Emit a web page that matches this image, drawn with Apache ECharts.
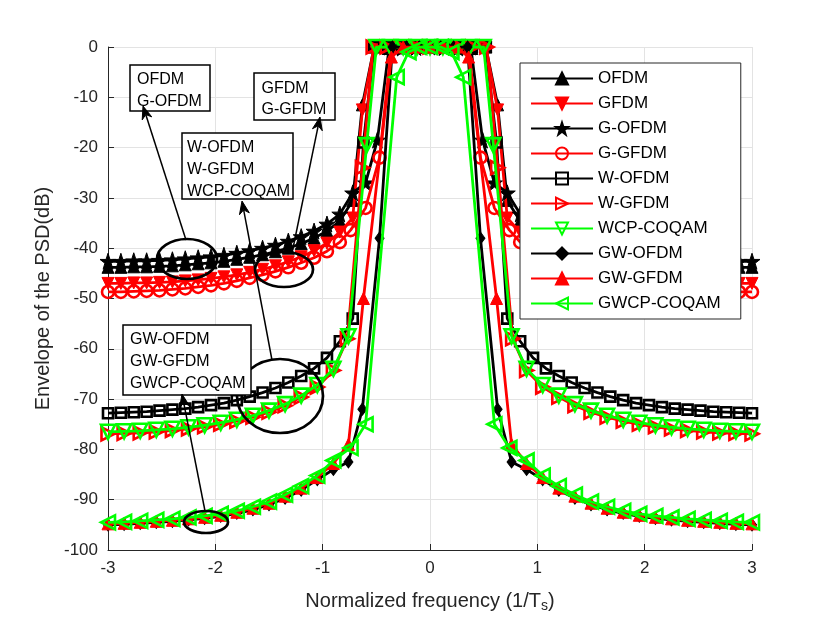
<!DOCTYPE html>
<html>
<head>
<meta charset="utf-8">
<script src="https://cdn.jsdelivr.net/npm/echarts@6/dist/echarts.min.js"></script>
<style>html,body{margin:0;padding:0;background:#fff}#c{width:830px;height:623px}</style>
</head>
<body>
<div id="c"></div>
<script>
// ---- shared frequency grids (1/Ts) ----
const tailL1 = [-3,-2.88,-2.76,-2.64,-2.52,-2.4,-2.28,-2.16,-2.04,-1.92,-1.8,-1.68,-1.56,-1.44,-1.32,-1.2,-1.08,-0.96,-0.84];
const tailR1 = [0.84,0.96,1.08,1.2,1.32,1.44,1.56,1.68,1.8,1.92,2.04,2.16,2.28,2.4,2.52,2.64,2.76,2.88,3];
const tailL2 = [-3,-2.85,-2.7,-2.55,-2.4,-2.25,-2.1,-1.95,-1.8,-1.65,-1.5,-1.35,-1.2,-1.05,-0.9];
const tailR2 = [0.9,1.05,1.2,1.35,1.5,1.65,1.8,1.95,2.1,2.25,2.4,2.55,2.7,2.85,3];

// ---- OFDM ----
const ofdmL = [-43.8,-43.8,-43.7,-43.7,-43.6,-43.5,-43.3,-43.1,-42.9,-42.6,-42.2,-41.8,-41.3,-40.7,-40.0,-39.1,-38.0,-36.6,-34.6];
const ofdmCx = [-0.72,-0.63,-0.52,-0.39,-0.26,-0.13,0,0.13,0.26,0.39,0.52,0.63,0.72];
const ofdmCy = [-30.5,-11.5,0,-0.3,-0.2,-0.1,0,-0.1,-0.2,-0.3,0,-11.5,-30.5];
const ofdmR = [-34.6,-36.6,-38.0,-39.1,-40.0,-40.7,-41.3,-41.8,-42.2,-42.6,-42.9,-43.1,-43.3,-43.5,-43.6,-43.7,-43.7,-43.8,-43.8];
// ---- GFDM ----
const gfdmL = [-47.0,-47.0,-46.9,-46.9,-46.8,-46.7,-46.5,-46.3,-46.0,-45.7,-45.3,-44.8,-44.2,-43.5,-42.7,-41.7,-40.5,-39.0,-36.8];
const gfdmCx = [-0.72,-0.63,-0.52,-0.39,-0.26,-0.13,0,0.13,0.26,0.39,0.52,0.63,0.72];
const gfdmCy = [-34,-12.5,0,0,0,0,0,0,0,0,0,-12.5,-34];
const gfdmR = [-36.8,-39.0,-40.5,-41.7,-42.7,-43.5,-44.2,-44.8,-45.3,-45.7,-46.0,-46.3,-46.5,-46.7,-46.8,-46.9,-46.9,-47.0,-47.0];
// ---- G-OFDM ----
const gofdmL = [-42.6,-42.6,-42.5,-42.5,-42.4,-42.3,-42.1,-41.9,-41.7,-41.4,-41.0,-40.5,-40.0,-39.4,-38.6,-37.7,-36.6,-35.2,-33.2];
const gofdmCx = [-0.72,-0.6,-0.49,-0.38,-0.26,-0.13,0,0.13,0.26,0.38,0.49,0.6,0.72];
const gofdmCy = [-29,-27,-18.5,0,-0.2,-0.1,0,-0.1,-0.2,0,-18.5,-27,-29];
const gofdmR = [-33.2,-35.2,-36.6,-37.7,-38.6,-39.4,-40.0,-40.5,-41.0,-41.4,-41.7,-41.9,-42.1,-42.3,-42.4,-42.5,-42.5,-42.6,-42.6];
// ---- G-GFDM ----
const ggfdmL = [-48.7,-48.7,-48.6,-48.5,-48.4,-48.2,-48.0,-47.7,-47.4,-47.0,-46.5,-45.9,-45.3,-44.6,-43.8,-42.9,-41.9,-40.6,-38.8];
const ggfdmCx = [-0.74,-0.6,-0.47,-0.36,-0.24,-0.12,0,0.12,0.24,0.36,0.47,0.6,0.74];
const ggfdmCy = [-36.4,-32,-22,0,0,0,0,0,0,0,-22,-32,-36.4];
const ggfdmR = [-38.8,-40.6,-41.9,-42.9,-43.8,-44.6,-45.3,-45.9,-46.5,-47.0,-47.4,-47.7,-48.0,-48.2,-48.4,-48.5,-48.6,-48.7,-48.7];
// ---- W-OFDM ----
const wofdmL = [-72.8,-72.7,-72.6,-72.5,-72.3,-72.1,-71.9,-71.6,-71.2,-70.8,-70.2,-69.5,-68.7,-67.8,-66.7,-65.4,-63.9,-61.8,-58.5];
const wofdmCx = [-0.72,-0.62,-0.52,-0.39,-0.26,-0.13,0,0.13,0.26,0.39,0.52,0.62,0.72];
const wofdmCy = [-54,-19,0,0,0,0,0,0,0,0,0,-19,-54];
const wofdmR = [-58.5,-61.8,-63.9,-65.4,-66.7,-67.8,-68.7,-69.5,-70.2,-70.8,-71.2,-71.6,-71.9,-72.1,-72.3,-72.5,-72.6,-72.7,-72.8];
// ---- W-GFDM ----
const wgfdmL = [-76.9,-76.8,-76.7,-76.5,-76.2,-75.9,-75.5,-75.0,-74.4,-73.6,-72.6,-71.3,-69.6,-67.6,-64.3];
const wgfdmCx = [-0.77,-0.63,-0.53,-0.4,-0.27,-0.13,0,0.13,0.27,0.4,0.53,0.63,0.77];
const wgfdmCy = [-58,-24,0,0,0,0,0,0,0,0,0,-24,-58];
const wgfdmR = [-64.3,-67.6,-69.6,-71.3,-72.6,-73.6,-74.4,-75.0,-75.5,-75.9,-76.2,-76.5,-76.7,-76.8,-76.9];
// ---- WCP-COQAM ----
const wcpL = [-76.5,-76.4,-76.3,-76.1,-75.9,-75.6,-75.2,-74.7,-74.1,-73.3,-72.3,-71.0,-69.3,-67.2,-64.0];
const wcpCx = [-0.76,-0.59,-0.5,-0.37,-0.25,-0.12,0,0.12,0.25,0.37,0.5,0.59,0.76];
const wcpCy = [-57.5,-19.5,0,0,0,0,0,0,0,0,0,-19.5,-57.5];
const wcpR = [-64.0,-67.2,-69.3,-71.0,-72.3,-73.3,-74.1,-74.7,-75.2,-75.6,-75.9,-76.1,-76.3,-76.4,-76.5];
// ---- GW-OFDM ----
const gwofdmL = [-95.0,-94.9,-94.7,-94.5,-94.3,-94.0,-93.7,-93.3,-92.7,-92.0,-91.0,-89.7,-88.1,-86.0,-84.0];
const gwofdmCx = [-0.76,-0.63,-0.47,-0.35,-0.22,-0.1,0,0.1,0.22,0.35,0.47,0.63,0.76];
const gwofdmCy = [-82.5,-72,-38,0,0,0,0,0,0,0,-38,-72,-82.5];
const gwofdmR = [-84.0,-86.0,-88.1,-89.7,-91.0,-92.0,-92.7,-93.3,-93.7,-94.0,-94.3,-94.5,-94.7,-94.9,-95.0];
// ---- GW-GFDM ----
const gwgfdmL = [-94.8,-94.7,-94.5,-94.3,-94.1,-93.8,-93.5,-93.1,-92.5,-91.7,-90.7,-89.3,-87.7,-85.6,-82.8];
const gwgfdmCx = [-0.76,-0.62,-0.36,-0.25,-0.12,0,0.12,0.25,0.36,0.62,0.76];
const gwgfdmCy = [-79,-50,-2,0,0,0,0,0,-2,-50,-79];
const gwgfdmR = [-82.8,-85.6,-87.7,-89.3,-90.7,-91.7,-92.5,-93.1,-93.5,-93.8,-94.1,-94.3,-94.5,-94.7,-94.8];
// ---- GWCP-COQAM ----
const gwcpL = [-94.5,-94.4,-94.2,-94.0,-93.8,-93.5,-93.2,-92.8,-92.2,-91.4,-90.4,-89.0,-87.3,-85.2,-82.2];
const gwcpCx = [-0.74,-0.6,-0.31,-0.2,-0.1,0,0.1,0.2,0.31,0.6,0.74];
const gwcpCy = [-79.7,-75,-6,-1,0,0,0,-1,-6,-75,-79.7];
const gwcpR = [-82.2,-85.2,-87.3,-89.0,-90.4,-91.4,-92.2,-92.8,-93.2,-93.5,-93.8,-94.0,-94.2,-94.4,-94.5];

const seriesNames = ['OFDM','GFDM','G-OFDM','G-GFDM','W-OFDM','W-GFDM','WCP-COQAM','GW-OFDM','GW-GFDM','GWCP-COQAM'];
const xTicks = [-3,-2,-1,0,1,2,3];

function build(xl, yl, xc, yc, xr, yr) {
  const xs = xl.concat(xc, xr), ys = yl.concat(yc, yr);
  return xs.map((x, i) => [x, ys[i]]);
}

const FONT = 'Liberation Sans, Arial, Helvetica, sans-serif';
const BLACK = '#000000', RED = '#ff0000', GREEN = '#00ff00';
const STAR = 'path://M50,0 L61.8,35.1 L98.1,35.1 L68.7,56.8 L79.4,91.4 L50,70 L20.6,91.4 L31.3,56.8 L1.9,35.1 L38.2,35.1 Z';

const defs = [
  {data: build(tailL1, ofdmL, ofdmCx, ofdmCy, tailR1, ofdmR), c: BLACK, sym: 'triangle', size: 12, rot: 0, hollow: false},
  {data: build(tailL1, gfdmL, gfdmCx, gfdmCy, tailR1, gfdmR), c: RED, sym: 'triangle', size: 12, rot: 180, hollow: false},
  {data: build(tailL1, gofdmL, gofdmCx, gofdmCy, tailR1, gofdmR), c: BLACK, sym: STAR, size: 16, rot: 0, hollow: false},
  {data: build(tailL1, ggfdmL, ggfdmCx, ggfdmCy, tailR1, ggfdmR), c: RED, sym: 'circle', size: 12, rot: 0, hollow: true},
  {data: build(tailL1, wofdmL, wofdmCx, wofdmCy, tailR1, wofdmR), c: BLACK, sym: 'rect', size: 10, rot: 0, hollow: true},
  {data: build(tailL2, wgfdmL, wgfdmCx, wgfdmCy, tailR2, wgfdmR), c: RED, sym: 'triangle', size: 13, rot: -90, hollow: true},
  {data: build(tailL2, wcpL, wcpCx, wcpCy, tailR2, wcpR), c: GREEN, sym: 'triangle', size: 14, rot: 180, hollow: true},
  {data: build(tailL2, gwofdmL, gwofdmCx, gwofdmCy, tailR2, gwofdmR), c: BLACK, sym: 'diamond', size: [9, 12], rot: 0, hollow: false},
  {data: build(tailL2, gwgfdmL, gwgfdmCx, gwgfdmCy, tailR2, gwgfdmR), c: RED, sym: 'triangle', size: 12, rot: 0, hollow: false},
  {data: build(tailL2, gwcpL, gwcpCx, gwcpCy, tailR2, gwcpR), c: GREEN, sym: 'triangle', size: 14, rot: 90, hollow: true}
];

const series = defs.map((d, i) => ({
  name: seriesNames[i],
  type: 'line',
  data: d.data,
  symbol: d.sym,
  symbolSize: d.size,
  symbolRotate: d.rot,
  showAllSymbol: true,
  lineStyle: {color: d.c, width: 2.8},
  itemStyle: d.hollow ? {color: 'rgba(255,255,255,0)', borderColor: d.c, borderWidth: 2.6} : {color: d.c, borderColor: d.c, borderWidth: 1},
  emphasis: {disabled: true},
  z: 2 + i
}));

// ---- annotations (figure-level, pixel positions as in the source figure) ----
function arrow(x1, y1, x2, y2) {
  const dx = x2 - x1, dy = y2 - y1, L = Math.hypot(dx, dy);
  const ux = dx / L, uy = dy / L, px = -uy, py = ux;
  const hl = 13, hw = 5, nb = 9;
  const bx = x2 - ux * hl, by = y2 - uy * hl;
  const nx = x2 - ux * nb, ny = y2 - uy * nb;
  return [
    {type: 'line', z: 100, shape: {x1: x1, y1: y1, x2: nx, y2: ny}, style: {stroke: '#000', lineWidth: 1.5}},
    {type: 'polygon', z: 100, shape: {points: [[x2, y2], [bx + px * hw, by + py * hw], [nx, ny], [bx - px * hw, by - py * hw]]}, style: {fill: '#000', stroke: '#000', lineWidth: 1}}
  ];
}
function box(x, y, w, h, lines, tx, ty0, dy) {
  const els = [{type: 'rect', z: 100, shape: {x: x, y: y, width: w, height: h}, style: {fill: '#fff', stroke: '#000', lineWidth: 1.5}}];
  lines.forEach((t, i) => els.push({type: 'text', z: 101, style: {text: t, x: tx, y: ty0 + i * dy, fill: '#000', font: '16px ' + FONT, verticalAlign: 'middle', align: 'left'}}));
  return els;
}
function ell(cx, cy, rx, ry) {
  return {type: 'ellipse', z: 100, shape: {cx: cx, cy: cy, rx: rx, ry: ry}, style: {fill: 'none', stroke: '#000', lineWidth: 2.7}};
}
const graphics = [].concat(
  ell(187, 259, 30, 20), ell(284, 269.5, 29, 17.5), ell(280, 396, 43, 37), ell(206, 522, 22, 11),
  box(130, 65, 80, 46, ['OFDM', 'G-OFDM'], 137, 80, 21.7),
  box(254, 73, 81, 47, ['GFDM', 'G-GFDM'], 261.5, 88.3, 21.7),
  box(182, 133, 111, 66, ['W-OFDM', 'W-GFDM', 'WCP-COQAM'], 187, 147.3, 22.2),
  box(123, 325, 128, 70, ['GW-OFDM', 'GW-GFDM', 'GWCP-COQAM'], 130, 340, 22),
  arrow(186, 240, 143, 106),
  arrow(292, 253, 320, 117),
  arrow(272, 360, 242, 201),
  arrow(205, 511, 182, 394)
);

const axisCommon = {
  type: 'value',
  axisLine: {show: true, onZero: false, lineStyle: {color: '#262626', width: 1}},
  axisTick: {show: true, inside: true, length: 6, lineStyle: {color: '#262626', width: 1}},
  axisLabel: {color: '#262626', fontSize: 17, fontFamily: FONT},
  splitLine: {show: true, lineStyle: {color: '#e3e3e3', width: 1}}
};

const chart = echarts.init(document.getElementById('c'), null, {renderer: 'canvas'});
chart.setOption({
  animation: false,
  backgroundColor: '#fff',
  grid: {left: 108, right: 78, top: 47, bottom: 73, containLabel: false},
  xAxis: Object.assign({}, axisCommon, {
    min: xTicks[0], max: xTicks[xTicks.length - 1], interval: 1,
    axisLabel: Object.assign({}, axisCommon.axisLabel, {margin: 10}),
    name: '{a|Normalized frequency (1/T}{s|s}{a|)}',
    nameLocation: 'middle', nameGap: 39,
    nameTextStyle: {rich: {
      a: {fontSize: 20, fontFamily: FONT, color: '#262626', lineHeight: 24, verticalAlign: 'middle'},
      s: {fontSize: 14, fontFamily: FONT, color: '#262626', lineHeight: 12, verticalAlign: 'bottom'}
    }}
  }),
  yAxis: Object.assign({}, axisCommon, {
    min: -100, max: 0, interval: 10,
    axisLabel: Object.assign({}, axisCommon.axisLabel, {margin: 10}),
    name: 'Envelope of the PSD(dB)', nameLocation: 'middle', nameGap: 55,
    nameTextStyle: {fontSize: 20, fontFamily: FONT, color: '#262626'}
  }),
  legend: {
    data: seriesNames,
    orient: 'vertical',
    left: 520, top: 63,
    itemWidth: 62, itemHeight: 15, itemGap: 8,
    padding: [7, 20, 7, 10],
    backgroundColor: '#fff',
    borderColor: '#262626', borderWidth: 1,
    textStyle: {fontSize: 17, fontFamily: FONT, color: '#000'},
    selectedMode: false,
    z: 50
  },
  series: series,
  graphic: {elements: graphics}
});
</script>
</body>
</html>
